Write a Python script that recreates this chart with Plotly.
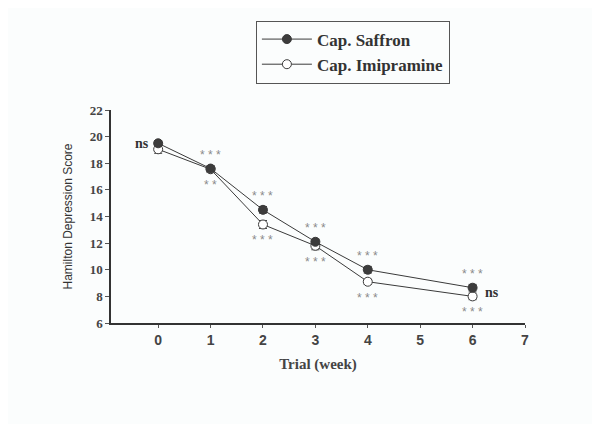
import plotly.graph_objects as go

weeks = [0, 1, 2, 3, 4, 6]
saffron = [19.5, 17.6, 14.5, 12.1, 10.0, 8.65]
saffron_err = [0.2, 0.2, 0.25, 0.2, 0.25, 0.25]
imipramine = [19.05, 17.55, 13.4, 11.8, 9.1, 8.0]
imipramine_err = [0.3, 0.25, 0.3, 0.3, 0.2, 0.25]

above_labels = ["ns", "* * *", "* * *", "* * *", "* * *", "* * *"]
below_labels = ["", "* *", "* * *", "* * *", "* * *", "* * *"]

x_ticks = [0, 1, 2, 3, 4, 5, 6, 7]
y_ticks = [6, 8, 10, 12, 14, 16, 18, 20, 22]

SERIF = "Liberation Serif, Times New Roman, serif"
SANS = "Liberation Sans, Arial, sans-serif"
LINE = "#3a3a3a"
BG = "#fbfdfd"

fig = go.Figure()
fig.add_trace(go.Scatter(
    x=weeks, y=imipramine, name="Cap. Imipramine", mode="lines+markers",
    line=dict(color=LINE, width=1),
    marker=dict(size=9, color="white", line=dict(color=LINE, width=1)),
    error_y=dict(type="data", array=imipramine_err, color=LINE, thickness=1, width=4),
    showlegend=False,
))
fig.add_trace(go.Scatter(
    x=weeks, y=saffron, name="<b>Cap. Saffron</b>", mode="lines+markers",
    line=dict(color=LINE, width=1),
    marker=dict(size=9, color="#3c3c3c", line=dict(color=LINE, width=1)),
    error_y=dict(type="data", array=saffron_err, color=LINE, thickness=1, width=4),
))
fig.add_trace(go.Scatter(
    x=[None], y=[None], name="<b>Cap. Imipramine</b>", mode="lines+markers",
    line=dict(color=LINE, width=1),
    marker=dict(size=9, color="white", line=dict(color=LINE, width=1)),
))

STAR = dict(family=SANS, size=12, color="#8a8a8a")
NS = dict(family=SERIF, size=14, color="#333", weight="bold")
annotations = []
for i, w in enumerate(weeks):
    lab = above_labels[i]
    if lab == "ns":
        annotations.append(dict(x=w, y=(saffron[i] + imipramine[i]) / 2, text="ns",
                                showarrow=False, xshift=-16, yshift=3, font=NS))
    else:
        annotations.append(dict(x=w, y=saffron[i], text=lab, showarrow=False,
                                yshift=14, font=STAR))
    if below_labels[i]:
        annotations.append(dict(x=w, y=imipramine[i], text=below_labels[i], showarrow=False,
                                yshift=-16, font=STAR))
annotations.append(dict(x=weeks[-1], y=(saffron[-1] + imipramine[-1]) / 2, text="ns",
                        showarrow=False, xshift=19, yshift=0, font=NS))

fig.update_layout(
    width=600, height=424,
    margin=dict(l=103, r=83, t=95, b=109),
    paper_bgcolor=BG, plot_bgcolor=BG,
    annotations=annotations,
    legend=dict(x=0.35, y=1.42, xanchor="left", yanchor="top",
                bordercolor="#555", borderwidth=1, bgcolor="rgba(0,0,0,0)",
                font=dict(family=SERIF, size=17, color="#333"),
                tracegroupgap=0, itemwidth=50),
    xaxis=dict(range=[-0.9, 7], tickvals=x_ticks, showgrid=False, zeroline=False,
               showline=True, linecolor="#333", linewidth=1.5,
               ticks="outside", ticklen=3, tickcolor="#555",
               tickfont=dict(family=SANS, size=14, color="#444", weight="bold"),
               title=dict(text="<b>Trial (week)</b>", font=dict(family=SERIF, size=15, color="#444"),
                          standoff=12)),
    yaxis=dict(range=[6, 22], tickvals=y_ticks, showgrid=False, zeroline=False,
               showline=True, linecolor="#333", linewidth=1.5,
               ticks="outside", ticklen=4, tickcolor="#555",
               tickfont=dict(family=SERIF, size=13, color="#444", weight="bold"),
               title=dict(text="Hamilton Depression Score",
                          font=dict(family=SANS, size=12, color="#333"), standoff=14)),
)

fig.write_html("out.html")
